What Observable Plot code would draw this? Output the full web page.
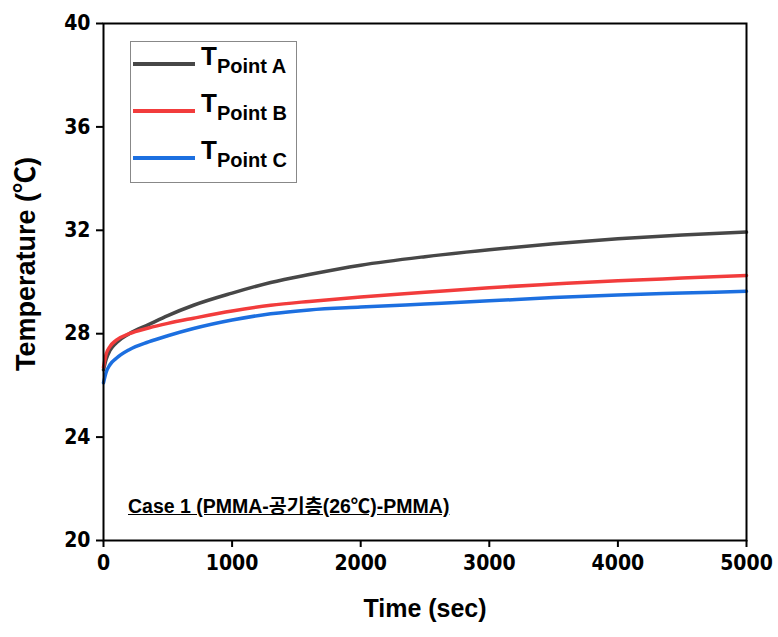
<!DOCTYPE html>
<html>
<head>
<meta charset="utf-8">
<script src="https://cdn.jsdelivr.net/npm/d3@7"></script>
<script src="https://cdn.jsdelivr.net/npm/@observablehq/plot@0.6"></script>
<style>
  html, body { margin: 0; padding: 0; background: #fff; }
  #wrap { position: relative; width: 778px; height: 637px; font-family: "Liberation Sans", Arial, "Noto Sans CJK KR", sans-serif; }
  .lbl { position: absolute; font-weight: bold; color: #000; white-space: nowrap; }
  #legend { position: absolute; left: 130px; top: 41px; width: 167px; height: 142px; border: 1px solid #888; background: #fff; box-sizing: border-box; }
  .row { position: absolute; left: 2px; height: 30px; width: 160px; white-space: nowrap; }
  .row .sw { position: absolute; left: 0; top: 13px; width: 62px; height: 4px; }
  .row .t { position: absolute; left: 68px; top: -8px; font-weight: bold; font-size: 26px; white-space: nowrap; }
  .row .t sub { font-size: 20px; vertical-align: -8px; }
</style>
</head>
<body>
<div id="wrap"></div>
<script>
const time   = [0, 20, 50, 100, 200, 350, 500, 700, 1000, 1300, 1600, 2000, 2500, 3000, 3500, 4000, 4500, 5000];
const pointA = [26.6, 27.0, 27.35, 27.65, 28.0, 28.35, 28.7, 29.1, 29.57, 29.98, 30.29, 30.65, 30.98, 31.25, 31.48, 31.67, 31.82, 31.93];
const pointB = [26.7, 27.2, 27.5, 27.75, 28.0, 28.22, 28.4, 28.6, 28.88, 29.1, 29.25, 29.42, 29.6, 29.78, 29.92, 30.05, 30.15, 30.25];
const pointC = [26.1, 26.5, 26.8, 27.05, 27.38, 27.68, 27.92, 28.2, 28.53, 28.77, 28.92, 29.03, 29.15, 29.27, 29.4, 29.5, 29.57, 29.64];
const seriesNames = ["Point A", "Point B", "Point C"];
const seriesColors = ["#474747", "#f23c3c", "#1c6fe0"];
const xTicks = [0, 1000, 2000, 3000, 4000, 5000];
const yTicks = [20, 24, 28, 32, 36, 40];
const caption = "Case 1 (PMMA-공기층(26℃)-PMMA)";

const seriesValues = [pointA, pointB, pointC];
const rows = [];
seriesNames.forEach((name, i) => time.forEach((t, j) => rows.push({series: name, t, v: seriesValues[i][j]})));

const plot = Plot.plot({
  width: 778,
  height: 637,
  marginLeft: 103,
  marginRight: 32,
  marginTop: 23,
  marginBottom: 97,
  style: {fontFamily: '"DejaVu Sans Condensed", "Liberation Sans Narrow", "Liberation Sans", Arial, sans-serif', fontStretch: "condensed", fontSize: "21px", fontWeight: "bold", color: "#000", background: "#fff"},
  x: {domain: [0, 5000]},
  y: {domain: [20, 40]},
  color: {domain: seriesNames, range: seriesColors},
  marks: [
    Plot.axisX({ticks: xTicks, tickFormat: d => String(d), tickSize: 7, tickPadding: 8, label: null, strokeWidth: 2}),
    Plot.axisY({ticks: yTicks, tickFormat: d => String(d), tickSize: 7, tickPadding: 6, label: null, strokeWidth: 2}),
    Plot.line(rows, {x: "t", y: "v", z: "series", stroke: "series", strokeWidth: 3.5, curve: "monotone-x"}),
    Plot.frame({stroke: "#000", strokeWidth: 2})
  ]
});
const wrap = document.getElementById("wrap");
wrap.appendChild(plot);

function addLabel(text, css) {
  const d = document.createElement("div");
  d.className = "lbl";
  d.textContent = text;
  Object.assign(d.style, css);
  wrap.appendChild(d);
  return d;
}
addLabel("Time (sec)", {left: "425px", top: "594px", fontSize: "25px", transform: "translateX(-50%)"});
addLabel("Temperature (℃)", {left: "23px", top: "264px", fontSize: "27px", transform: "translate(-50%,-50%) rotate(-90deg)"});
addLabel(caption, {left: "128px", top: "490px", fontSize: "19.5px", textDecoration: "underline", fontFamily: '"Liberation Sans", Arial, "Noto Sans CJK KR", sans-serif'});

const legend = document.createElement("div");
legend.id = "legend";
seriesNames.forEach((name, i) => {
  const r = document.createElement("div");
  r.className = "row";
  r.style.top = (7 + i * 47) + "px";
  const sw = document.createElement("div");
  sw.className = "sw";
  sw.style.background = seriesColors[i];
  const t = document.createElement("div");
  t.className = "t";
  t.innerHTML = "T<sub>" + name + "</sub>";
  r.appendChild(sw); r.appendChild(t);
  legend.appendChild(r);
});
wrap.appendChild(legend);
</script>
</body>
</html>
